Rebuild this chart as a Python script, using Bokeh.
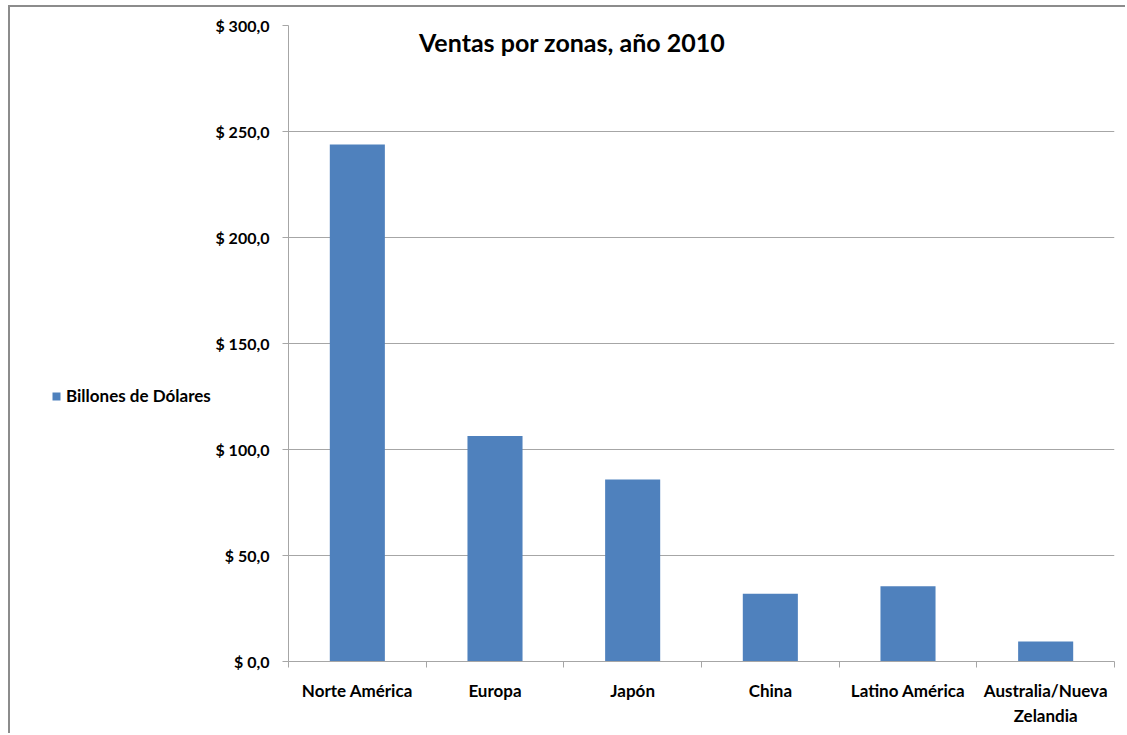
from bokeh.plotting import figure
from bokeh.models import (Range1d, FixedTicker, CustomJSTickFormatter, Label,
                          Legend, LegendItem, ColumnDataSource)
from bokeh.layouts import row
from bokeh.embed import file_html
from bokeh.resources import INLINE
import numpy as np

categories = ["Norte América", "Europa", "Japón", "China", "Latino América",
              "Australia/Nueva\nZelandia"]
values = [243.9, 106.4, 85.8, 31.9, 35.5, 9.4]
y_ticks = [0, 50, 100, 150, 200, 250, 300]
series_name = "Billones de Dólares"
title_text = "Ventas por zonas, año 2010"

FONT = "Lato"
BAR = "#4f81bd"
GRID = "#a6a6a6"
H = 726
LW = 202

positions = list(np.arange(len(categories)) + 0.5)
boundaries = list(range(len(categories) + 1))
src = ColumnDataSource(dict(x=positions, top=values, cat=categories))

# ---- main chart
p = figure(width=1115 - LW, height=H, output_backend="svg", toolbar_location=None,
           x_range=Range1d(0, len(categories)), y_range=Range1d(0, 300),
           min_border_left=75, min_border_right=11, min_border_top=18,
           min_border_bottom=72, tools="")
p.outline_line_color = None
p.background_fill_color = "white"
p.border_fill_color = "white"

r = p.vbar(x="x", top="top", width=0.4, bottom=0, source=src,
           fill_color=BAR, line_color=None)

p.yaxis.ticker = FixedTicker(ticks=y_ticks)
p.yaxis.formatter = CustomJSTickFormatter(
    code="return '$ ' + tick.toFixed(1).replace('.', ',');")
p.yaxis.axis_line_color = GRID
p.yaxis.major_tick_line_color = GRID
p.yaxis.major_tick_out = 6
p.yaxis.major_tick_in = 0
p.yaxis.minor_tick_line_color = None
p.yaxis.major_label_standoff = 13
p.yaxis.major_label_text_font = FONT
p.yaxis.major_label_text_font_style = "bold"
p.yaxis.major_label_text_font_size = "16px"
p.yaxis.major_label_text_color = "black"

p.xaxis.ticker = FixedTicker(ticks=positions, minor_ticks=boundaries)
p.xaxis.major_label_overrides = {pos: c for pos, c in zip(positions, categories)}
p.xaxis.major_tick_line_color = None
p.xaxis.minor_tick_line_color = GRID
p.xaxis.minor_tick_out = 6
p.xaxis.minor_tick_in = 0
p.xaxis.axis_line_color = GRID
p.xaxis.major_label_standoff = 12
p.xaxis.major_label_text_font = FONT
p.xaxis.major_label_text_font_style = "bold"
p.xaxis.major_label_text_font_size = "17px"
p.xaxis.major_label_text_color = "black"

p.xgrid.grid_line_color = None
p.ygrid.grid_line_color = GRID
p.ygrid.grid_line_width = 1

title = Label(x=2.06, y=292.0, text=title_text, text_align="center",
              text_baseline="alphabetic", text_font=FONT, text_font_style="bold",
              text_font_size="25px", text_color="black")
p.add_layout(title)

# ---- left area holding the legend
lp = figure(width=LW, height=H, output_backend="svg", toolbar_location=None,
            x_range=Range1d(0, 1), y_range=Range1d(0, 1),
            x_axis_location=None, y_axis_location=None, tools="",
            min_border=0)
lp.outline_line_color = None
lp.xgrid.grid_line_color = None
lp.ygrid.grid_line_color = None
lr = lp.vbar(x="x", top="top", width=0.4, source=src,
             fill_color=BAR, line_color=None, visible=False)

legend = Legend(items=[LegendItem(label=series_name, renderers=[lr])],
                location=(41, 255), padding=0, margin=0, spacing=0,
                glyph_width=10, glyph_height=10, label_height=20,
                label_standoff=5, border_line_color=None,
                background_fill_alpha=0, inactive_fill_alpha=0,
                label_text_font=FONT,
                label_text_font_style="bold", label_text_font_size="17px",
                label_text_color="black")
lp.add_layout(legend)

lay = row(lp, p, spacing=0)
lay.styles = {"margin-left": "8px", "margin-top": "5px",
              "border-left": "2px solid #8c8c8c", "border-top": "2px solid #8c8c8c"}

open("out.html", "w").write(file_html(lay, INLINE))
